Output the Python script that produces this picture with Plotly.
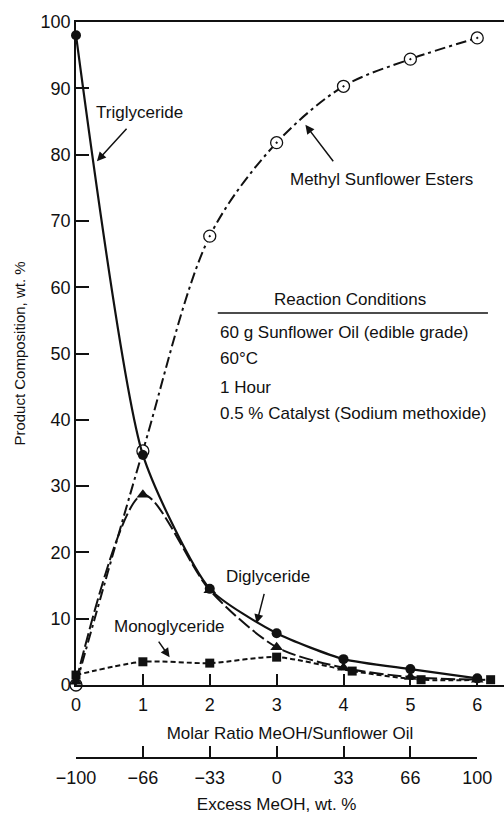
import plotly.graph_objects as go

# ---- data ----
MOLAR_RATIO = [0, 1, 2, 3, 4, 5, 6]
EXCESS_MEOH_LABELS = ["\u2212100", "\u221266", "\u221233", "0", "33", "66", "100"]

TRIGLYCERIDE = [98.0, 34.7, 14.5, 7.8, 3.9, 2.4, 1.0]
DIGLYCERIDE = [0.5, 28.7, 14.3, 5.7, 2.6, 1.2, 0.8]
MONO_X = [0, 1, 2, 3, 4.13, 5.16, 6.2]
MONOGLYCERIDE = [1.5, 3.5, 3.3, 4.2, 2.1, 0.8, 0.8]
ESTERS = [0.0, 35.3, 67.7, 81.8, 90.3, 94.4, 97.6]

Y_TICKS = [0, 10, 20, 30, 40, 50, 60, 70, 80, 90, 100]

CONDITIONS = [
    "60 g Sunflower Oil (edible grade)",
    "60\u00b0C",
    "1 Hour",
    "0.5 % Catalyst (Sodium methoxide)",
]

FONT = "Liberation Sans, Arial, sans-serif"
INK = "#111111"

fig = go.Figure()

fig.add_trace(go.Scatter(
    x=MOLAR_RATIO, y=ESTERS, mode="lines+markers", name="Methyl Sunflower Esters",
    line=dict(color=INK, width=2, dash="11px,4px,3px,4px", shape="spline", smoothing=0.9),
    marker=dict(symbol="circle-dot", size=12, color="white", line=dict(color=INK, width=1.3)),
    cliponaxis=False))

fig.add_trace(go.Scatter(
    x=MONO_X, y=MONOGLYCERIDE, mode="lines+markers", name="Monoglyceride",
    line=dict(color=INK, width=2, dash="5px,3px", shape="spline", smoothing=0.8),
    marker=dict(symbol="square", size=9, color=INK),
    cliponaxis=False))

fig.add_trace(go.Scatter(
    x=MOLAR_RATIO, y=DIGLYCERIDE, mode="lines+markers", name="Diglyceride",
    line=dict(color=INK, width=2, dash="14px,4px", shape="spline", smoothing=0.8),
    marker=dict(symbol="triangle-up", size=11, color=INK),
    cliponaxis=False))

fig.add_trace(go.Scatter(
    x=MOLAR_RATIO, y=TRIGLYCERIDE, mode="lines+markers", name="Triglyceride",
    line=dict(color=INK, width=2.2, shape="spline", smoothing=0.6),
    marker=dict(symbol="circle", size=10, color=INK),
    cliponaxis=False))

# invisible trace so that the secondary (excess MeOH) axis is drawn
fig.add_trace(go.Scatter(
    x=MOLAR_RATIO, y=[None] * len(MOLAR_RATIO), xaxis="x2", yaxis="y",
    mode="markers", marker=dict(opacity=0), showlegend=False, hoverinfo="skip"))

annotations = [
    dict(x=0.955, y=86.4, text="Triglyceride", showarrow=False),
    dict(x=4.57, y=76.3, text="Methyl Sunflower Esters", showarrow=False),
    dict(x=2.87, y=16.3, text="Diglyceride", showarrow=False),
    dict(x=1.40, y=8.8, text="Monoglyceride", showarrow=False),
    dict(x=4.09, y=58.2, text="Reaction Conditions", showarrow=False),
]
# arrows
for hx, hy, ax, ay in [(0.313, 79.0, 31, -34), (3.43, 84.5, 29, 38),
                       (2.70, 9.3, 8, -31), (1.40, 4.2, -12, -17)]:
    annotations.append(dict(x=hx, y=hy, text="", showarrow=True, ax=ax, ay=ay,
                            arrowhead=2, arrowsize=1.2, arrowwidth=1.5, arrowcolor=INK))

cond_y = [53.2, 49.3, 44.9, 41.0]
for txt, yy in zip(CONDITIONS, cond_y):
    annotations.append(dict(x=2.12, y=yy, text=txt, showarrow=False, xanchor="left"))

for a in annotations:
    a.setdefault("font", dict(family=FONT, size=17, color=INK))
    a["xref"] = "x"
    a["yref"] = "y"

fig.update_layout(
    width=504, height=814,
    margin=dict(l=76, r=0, t=22, b=56, autoexpand=False),
    paper_bgcolor="white", plot_bgcolor="rgba(0,0,0,0)",
    showlegend=False,
    font=dict(family=FONT, size=18, color=INK),
    annotations=annotations,
    shapes=[dict(type="line", xref="x", yref="y", x0=2.12, x1=6.16, y0=56.1, y1=56.1,
                 line=dict(color=INK, width=1.5))],
    xaxis=dict(range=[0, 6.4], tickvals=MOLAR_RATIO, ticktext=[str(v) for v in MOLAR_RATIO],
               ticks="inside", ticklen=11, tickwidth=1.5, tickcolor=INK,
               showline=True, linecolor=INK, linewidth=1.5, mirror=True,
               showgrid=False, zeroline=False, anchor="y", automargin=False,
               tickfont=dict(size=18), ticklabelstandoff=3,
               title=dict(text="Molar Ratio MeOH/Sunflower Oil", font=dict(size=17), standoff=13)),
    xaxis2=dict(range=[0, 6], domain=[0, 6 / 6.4], anchor="free", position=0,
                tickvals=MOLAR_RATIO, ticktext=EXCESS_MEOH_LABELS,
                ticks="inside", ticklen=11, tickwidth=1.5, tickcolor=INK,
                showline=True, linecolor=INK, linewidth=1.5, automargin=False,
                showgrid=False, zeroline=False, tickfont=dict(size=18), ticklabelstandoff=4,
                title=dict(text="Excess MeOH, wt. %", font=dict(size=17), standoff=12)),
    yaxis=dict(range=[0, 100], domain=[73 / 736, 1], tickvals=Y_TICKS,
               ticks="inside", ticklen=13, tickwidth=1.5, tickcolor=INK,
               showline=True, linecolor=INK, linewidth=1.5, automargin=False,
               showgrid=False, zeroline=False, tickfont=dict(size=18), ticklabelstandoff=0,
               title=dict(text="Product Composition, wt. %", font=dict(size=15), standoff=11)),
)

fig.write_html("out.html", config={"displayModeBar": False},
               post_script="document.body.style.margin='0px';")
